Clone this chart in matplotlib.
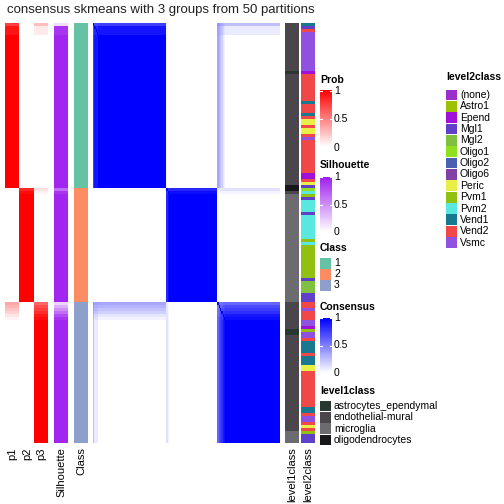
import numpy as np
import matplotlib.pyplot as plt
from matplotlib.colors import LinearSegmentedColormap, ListedColormap

plt.rcParams['font.family'] = ['Liberation Sans', 'DejaVu Sans']

W = H = 504

# ---- data (rows ordered as in the heatmap, one row per sample) ----
# (p1, p2, p3, silhouette, count)
row_runs = [
    (0.75, 0.00, 0.25, 0.15, 1),
    (0.92, 0.00, 0.08, 0.90, 3),
    (1.00, 0.00, 0.00, 0.97, 51),
    (0.03, 0.85, 0.12, 0.65, 1),
    (0.00, 0.95, 0.05, 0.90, 1),
    (0.00, 1.00, 0.00, 0.97, 36),
    (0.35, 0.00, 0.60, 0.18, 1),
    (0.30, 0.00, 0.70, 0.35, 1),
    (0.24, 0.00, 0.76, 0.50, 1),
    (0.18, 0.00, 0.82, 0.65, 1),
    (0.10, 0.00, 0.90, 0.80, 1),
    (0.05, 0.00, 0.95, 0.90, 1),
    (0.00, 0.00, 1.00, 0.97, 41),
]
class_sizes = [55, 38, 47]
class_labels = ["1", "2", "3"]
class_colors = ["#66C2A5", "#FC8D62", "#8DA0CB"]

level1_names = ["astrocytes_ependymal", "endothelial-mural", "microglia", "oligodendrocytes"]
level1_colors = ["#283830", "#4A464C", "#6C6C70", "#18181A"]
level1_runs = [
    ("endothelial-mural", 16), ("astrocytes_ependymal", 1), ("endothelial-mural", 37),
    ("oligodendrocytes", 2), ("endothelial-mural", 1), ("microglia", 36),
    ("endothelial-mural", 9), ("astrocytes_ependymal", 2), ("endothelial-mural", 32),
    ("microglia", 4),
]

level2_names = ["(none)", "Astro1", "Epend", "Mgl1", "Mgl2", "Oligo1", "Oligo2",
                "Oligo6", "Peric", "Pvm1", "Pvm2", "Vend1", "Vend2", "Vsmc"]
level2_colors = ["#9A2FCB", "#9DC000", "#A010D8", "#6040C8", "#80C040", "#90E020",
                 "#4A60B0", "#8040A8", "#E8F048", "#90C010", "#58E8E0", "#187890",
                 "#F04848", "#9050E0"]
level2_runs = [
    # class 1
    ("Vend1", 1), ("Mgl1", 1), ("Vend2", 1), ("Vsmc", 13), ("Epend", 1), ("Vend2", 9),
    ("Vend1", 1), ("Vend2", 3), ("Vend1", 1), ("Vend2", 1), ("Peric", 2), ("Vend2", 1),
    ("Peric", 2), ("Vend2", 1), ("Vsmc", 1), ("Vend2", 11), ("Epend", 2), ("Vend2", 1),
    ("Peric", 1), ("Mgl1", 1),
    # class 2
    ("Oligo1", 1), ("Pvm2", 1), ("Pvm1", 1), ("Mgl1", 1), ("Pvm2", 4), ("Mgl1", 1),
    ("Pvm2", 8), ("Pvm1", 1), ("Pvm2", 1), ("Pvm1", 11), ("Mgl1", 1), ("Mgl2", 4),
    ("Mgl1", 3),
    # class 3
    ("Vend2", 2), ("Vsmc", 1), ("Vend2", 3), ("Vsmc", 2), ("Epend", 1), ("Pvm1", 1),
    ("Vsmc", 2), ("Vend2", 1), ("Vend1", 4), ("Vend2", 1), ("Vend1", 3), ("Peric", 2),
    ("Vend2", 12), ("Vend1", 2), ("Vend2", 1), ("Vsmc", 2), ("Vend2", 1), ("Peric", 1),
    ("Vend2", 1), ("Pvm1", 1), ("Mgl1", 3),
]

# ---- expand runs ----
P = np.array([[a, b, c] for a, b, c, s, n in row_runs for _ in range(n)])
sil = np.array([s for a, b, c, s, n in row_runs for _ in range(n)])
cls = np.repeat(np.arange(3), class_sizes)
lv1 = np.array([level1_names.index(k) for k, n in level1_runs for _ in range(n)])
lv2 = np.array([level2_names.index(k) for k, n in level2_runs for _ in range(n)])

# consensus from the membership probabilities
cons = P @ P.T
np.fill_diagonal(cons, 1)

red = LinearSegmentedColormap.from_list("r", ["white", "#FF0000"])
purple = LinearSegmentedColormap.from_list("p", ["white", "#A020F0"])
blue = LinearSegmentedColormap.from_list("b", ["white", "#0000FF"])

fig = plt.figure(figsize=(W / 100, H / 100), dpi=100)


def px_axes(x0, y0, x1, y1):
    ax = fig.add_axes([x0 / W, 1 - y1 / H, (x1 - x0) / W, (y1 - y0) / H])
    ax.set_axis_off()
    return ax


top, bot = 23, 443
kw = dict(aspect="auto", interpolation="nearest")
px_axes(5, top, 48, bot).imshow(P, cmap=red, vmin=0, vmax=1, **kw)
px_axes(54, top, 68, bot).imshow(sil[:, None], cmap=purple, vmin=0, vmax=1, **kw)
px_axes(74, top, 88, bot).imshow(cls[:, None], cmap=ListedColormap(class_colors),
                                 vmin=0, vmax=2, **kw)
px_axes(93, top, 280, bot).imshow(cons, cmap=blue, vmin=0, vmax=1, **kw)
px_axes(285, top, 299, bot).imshow(lv1[:, None], cmap=ListedColormap(level1_colors),
                                   vmin=0, vmax=len(level1_names) - 1, **kw)
px_axes(301, top, 315, bot).imshow(lv2[:, None], cmap=ListedColormap(level2_colors),
                                   vmin=0, vmax=len(level2_names) - 1, **kw)

fig.text(7 / W, 1 - 10 / H, "consensus skmeans with 3 groups from 50 partitions",
         fontsize=9.5, ha="left", va="center", color="#222222")

# column labels under the heatmap
for x, lab in [(12.5, "p1"), (27, "p2"), (41.5, "p3"), (61, "Silhouette"),
               (81, "Class"), (292, "level1class"), (308, "level2class")]:
    fig.text(x / W, 1 - 447 / H, lab, rotation=90, ha="center", va="top", fontsize=8)


# ---- legends ----
def ptext(x, y, s, **k):
    fig.text(x / W, 1 - y / H, s, va="center", ha="left", fontsize=7.5, **k)


def cbar(title, cmap, ty, y1, y0):
    # y1: pixel of value 1, y0: pixel of value 0
    ptext(320, ty, title, fontweight="bold")
    ax = px_axes(320, y1 - 2, 332, y0 + 2)
    grad = np.linspace(1, 0, 100)[:, None]
    ax.imshow(grad, cmap=cmap, vmin=0, vmax=1, aspect="auto",
              extent=[0, 1, y0, y1], interpolation="bilinear")
    ax.set_xlim(0, 1)
    ax.set_ylim(y0 + 2, y1 - 2)
    for yy in (y1, (y1 + y0) / 2):
        ax.plot([0, 0.2], [yy, yy], color="white", lw=0.8)
        ax.plot([0.8, 1], [yy, yy], color="white", lw=0.8)
    for yy, s in [(y1, "1"), ((y1 + y0) / 2, "0.5"), (y0, "0")]:
        ptext(334, yy, s)


cbar("Prob", red, 80, 91, 147.5)
cbar("Silhouette", purple, 165, 177, 232)

ptext(320, 248, "Class", fontweight="bold")
for i, (lab, col) in enumerate(zip(class_labels, class_colors)):
    y = 263 + i * 11
    ax = px_axes(320, y - 5, 331, y + 5.5)
    ax.add_patch(plt.Rectangle((0, 0), 1, 1, color=col, transform=ax.transAxes))
    ptext(334, y, lab)

cbar("Consensus", blue, 307, 318, 373)

ptext(320, 391, "level1class", fontweight="bold")
for i, (lab, col) in enumerate(zip(level1_names, level1_colors)):
    y = 406 + i * 11.3
    ax = px_axes(320, y - 5.3, 331, y + 5.3)
    ax.add_patch(plt.Rectangle((0, 0), 1, 1, color=col, transform=ax.transAxes))
    ptext(334, y, lab)

ptext(446, 77, "level2class", fontweight="bold")
for i, (lab, col) in enumerate(zip(level2_names, level2_colors)):
    y = 95 + i * 11.35
    ax = px_axes(446, y - 5.4, 457, y + 5.4)
    ax.add_patch(plt.Rectangle((0, 0), 1, 1, color=col, transform=ax.transAxes))
    ptext(460, y, lab)

fig.savefig("out.png", dpi=100)
